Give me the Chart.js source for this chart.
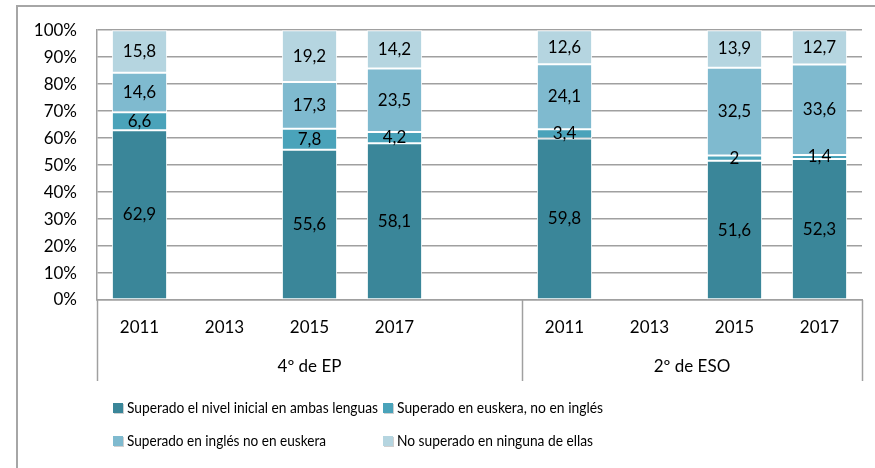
<!DOCTYPE html>
<html>
<head>
<meta charset="utf-8">
<script src="https://cdn.jsdelivr.net/npm/chart.js@4"></script>
<style>
  html, body { margin: 0; padding: 0; background: #fff; overflow: hidden; }
  canvas { display: block; }
</style>
</head>
<body>
<canvas id="chart" width="875" height="468"></canvas>
<script>
const years = ['2011', '2013', '2015', '2017', '', '2011', '2013', '2015', '2017'];
const groups = ['4º de EP', '2º de ESO'];
const groupSizes = [5, 4];

const seriesNames = [
  'Superado el nivel inicial en ambas lenguas',
  'Superado en euskera, no en inglés',
  'Superado en inglés no en euskera',
  'No superado en ninguna de ellas'
];
const ambas = [62.9, null, 55.6, 58.1, null, 59.8, null, 51.6, 52.3];
const soloEuskera = [6.6, null, 7.8, 4.2, null, 3.4, null, 2, 1.4];
const soloIngles = [14.6, null, 17.3, 23.5, null, 24.1, null, 32.5, 33.6];
const ninguna = [15.8, null, 19.2, 14.2, null, 12.6, null, 13.9, 12.7];
const yTicks = [0, 10, 20, 30, 40, 50, 60, 70, 80, 90, 100];

const colors = ['#3a8699', '#4aa3ba', '#7fbacf', '#b5d5e0'];
const raw = [ambas, soloEuskera, soloIngles, ninguna];
const FONT = 'Lato, "DejaVu Sans", sans-serif';

// 100% stacked: normalise each column
const totals = years.map((_, i) => raw.reduce((s, arr) => s + (arr[i] || 0), 0));
const pct = raw.map(arr => arr.map((v, i) => v == null ? null : v / totals[i] * 100));

const fmt = v => String(v).replace('.', ',');

const extras = {
  id: 'extras',
  beforeDraw(chart) {
    // outer frame (only top and left edges fall inside the picture)
    const ctx = chart.ctx;
    ctx.save();
    ctx.strokeStyle = '#a6a6a6';
    ctx.lineWidth = 2;
    ctx.beginPath();
    ctx.moveTo(17, chart.height);
    ctx.lineTo(17, 6);
    ctx.lineTo(chart.width, 6);
    ctx.stroke();
    ctx.restore();
  },
  afterDatasetsDraw(chart) {
    const ctx = chart.ctx;
    ctx.save();
    ctx.fillStyle = '#000';
    ctx.font = '17px ' + FONT;
    ctx.textAlign = 'center';
    ctx.textBaseline = 'middle';
    chart.data.datasets.forEach((ds, di) => {
      chart.getDatasetMeta(di).data.forEach((bar, i) => {
        const v = raw[di][i];
        if (v == null) return;
        ctx.fillText(fmt(v), bar.x, (bar.y + bar.base) / 2);
      });
    });
    ctx.restore();
  },
  afterDraw(chart) {
    const ctx = chart.ctx;
    const xs = chart.scales.x;
    const y0 = chart.chartArea.bottom;
    const yEnd = y0 + 81;
    ctx.save();
    ctx.strokeStyle = '#a0a0a0';
    ctx.lineWidth = 1.5;
    // group separators below the axis
    const bounds = [xs.left];
    let idx = 0;
    groupSizes.forEach(n => {
      idx += n;
      bounds.push(idx >= years.length ? xs.right
        : (xs.getPixelForValue(idx - 1) + xs.getPixelForValue(idx)) / 2);
    });
    bounds.forEach(x => {
      ctx.beginPath();
      ctx.moveTo(Math.round(x) + 0.5, y0);
      ctx.lineTo(Math.round(x) + 0.5, yEnd);
      ctx.stroke();
    });
    ctx.fillStyle = '#000';
    ctx.font = '17px ' + FONT;
    ctx.textAlign = 'center';
    ctx.textBaseline = 'middle';
    groups.forEach((g, gi) => {
      ctx.fillText(g, (bounds[gi] + bounds[gi + 1]) / 2, y0 + 67);
    });

    // legend in two columns
    ctx.font = '16px ' + FONT;
    ctx.textAlign = 'left';
    const cols = [113, 383];
    const rows = [408, 441];
    const widths = [251, 206, 199, 196];
    seriesNames.forEach((name, si) => {
      const x = cols[si % 2];
      const y = rows[Math.floor(si / 2)];
      ctx.fillStyle = '#d0d0d0';
      ctx.fillRect(x + 1, y - 4, 10, 10);
      ctx.fillStyle = colors[si];
      ctx.fillRect(x, y - 5, 10, 10);
      ctx.fillStyle = '#000';
      ctx.fillText(name, x + 14, y, widths[si]);
    });
    ctx.restore();
  }
};

new Chart(document.getElementById('chart'), {
  type: 'bar',
  data: {
    labels: years,
    datasets: seriesNames.map((name, si) => ({
      label: name,
      data: pct[si],
      backgroundColor: colors[si],
      borderColor: '#ffffff',
      borderWidth: 1,
      borderSkipped: false,
      barPercentage: 0.65,
      categoryPercentage: 1
    }))
  },
  options: {
    responsive: false,
    animation: false,
    layout: { padding: { left: 16, right: 13, top: 29, bottom: 0 } },
    plugins: {
      legend: { display: false },
      tooltip: { enabled: false }
    },
    scales: {
      x: {
        stacked: true,
        grid: { display: false, drawTicks: false },
        border: { display: true, color: '#a0a0a0', width: 1.5 },
        ticks: { color: '#000', font: { family: FONT, size: 17 }, padding: 17, maxRotation: 0, autoSkip: false },
        afterFit(scale) { scale.height = 168; }
      },
      y: {
        stacked: true,
        min: 0,
        max: 100,
        afterBuildTicks(scale) { scale.ticks = yTicks.map(v => ({ value: v })); },
        grid: { color: '#a0a0a0', lineWidth: 1.5, drawTicks: false },
        border: { display: true, color: '#a0a0a0', width: 1.5 },
        ticks: {
          color: '#000',
          font: { family: FONT, size: 17 },
          padding: 20,
          callback: v => v + '%'
        },
        afterFit(scale) { scale.width = 81; }
      }
    }
  },
  plugins: [extras]
});
</script>
</body>
</html>
